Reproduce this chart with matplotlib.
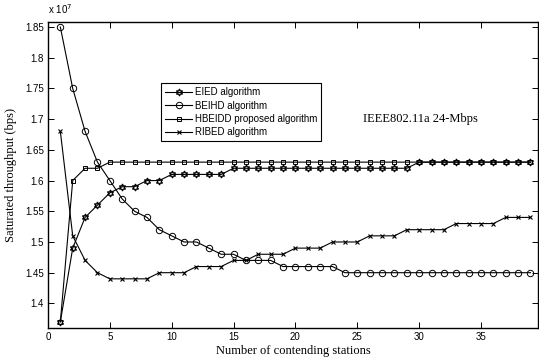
import matplotlib
matplotlib.use("Agg")
import matplotlib.pyplot as plt
from matplotlib.ticker import FuncFormatter

stations = list(range(1, 40))
eied = [1.37, 1.49, 1.54, 1.56, 1.58, 1.59, 1.59, 1.60, 1.60, 1.61,
        1.61, 1.61, 1.61, 1.61, 1.62, 1.62, 1.62, 1.62, 1.62, 1.62,
        1.62, 1.62, 1.62, 1.62, 1.62, 1.62, 1.62, 1.62, 1.62, 1.63,
        1.63, 1.63, 1.63, 1.63, 1.63, 1.63, 1.63, 1.63, 1.63]
beihd = [1.85, 1.75, 1.68, 1.63, 1.60, 1.57, 1.55, 1.54, 1.52, 1.51,
         1.50, 1.50, 1.49, 1.48, 1.48, 1.47, 1.47, 1.47, 1.46, 1.46,
         1.46, 1.46, 1.46, 1.45, 1.45, 1.45, 1.45, 1.45, 1.45, 1.45,
         1.45, 1.45, 1.45, 1.45, 1.45, 1.45, 1.45, 1.45, 1.45]
hbeidd = [1.37, 1.60, 1.62, 1.62] + [1.63] * 35
ribed = [1.68, 1.51, 1.47, 1.45, 1.44, 1.44, 1.44, 1.44, 1.45, 1.45,
         1.45, 1.46, 1.46, 1.46, 1.47, 1.47, 1.48, 1.48, 1.48, 1.49,
         1.49, 1.49, 1.50, 1.50, 1.50, 1.51, 1.51, 1.51, 1.52, 1.52,
         1.52, 1.52, 1.53, 1.53, 1.53, 1.53, 1.54, 1.54, 1.54]
scale = 1e7

fig = plt.figure(figsize=(5.39, 3.62), dpi=100)
ax = fig.add_axes([0.089, 0.094, 0.909, 0.845])

sans = "Liberation Sans"
serif = "Liberation Serif"

ax.plot(stations, [v * scale for v in eied], color="black", lw=0.8,
        marker=(6, 1, 0), ms=5, mfc="none", mec="black", mew=0.9, label="EIED algorithm")
ax.plot(stations, [v * scale for v in beihd], color="black", lw=0.8,
        marker="o", ms=4.6, mfc="none", mec="black", mew=0.7, label="BEIHD algorithm")
ax.plot(stations, [v * scale for v in hbeidd], color="black", lw=0.8,
        marker="s", ms=3.2, mfc="none", mec="black", mew=0.7, label="HBEIDD proposed algorithm")
ax.plot(stations, [v * scale for v in ribed], color="black", lw=0.8,
        marker="x", ms=3.2, mec="black", mew=0.8, label="RIBED algorithm")

ax.set_xlim(0, 39.6)
ax.set_ylim(1.36e7, 1.858e7)
ax.set_xticks([0, 5, 10, 15, 20, 25, 30, 35])
ax.set_yticks([v * scale for v in [1.4, 1.45, 1.5, 1.55, 1.6, 1.65, 1.7, 1.75, 1.8, 1.85]])
ax.yaxis.set_major_formatter(FuncFormatter(lambda v, p: f"{v / scale:g}"))
ax.tick_params(direction="in", top=True, right=True, length=4, width=0.7,
               labelsize=7, pad=3)
for lbl in ax.get_xticklabels() + ax.get_yticklabels():
    lbl.set_fontfamily(sans)
for s in ax.spines.values():
    s.set_linewidth(1.0)

fig.text(0.089, 0.955, r"x 10$^{7}$", fontsize=7, family=sans, ha="left", va="bottom")

ax.set_xlabel("Number of contending stations", fontsize=9, family=serif, labelpad=2)
ax.set_ylabel("Saturated throughput (bps)", fontsize=9, family=serif, labelpad=6)

ax.text(30.1, 1.70e7, "IEEE802.11a 24-Mbps", fontsize=9, family=serif,
        ha="center", va="center")

leg = ax.legend(loc="upper left", bbox_to_anchor=(0.231, 0.80), prop={"family": sans, "size": 7},
                frameon=True, fancybox=False, edgecolor="black", framealpha=1,
                handlelength=2.8, handletextpad=0.3, borderpad=0.4, labelspacing=0.35,
                borderaxespad=0)
leg.get_frame().set_linewidth(0.8)

fig.savefig("out.png", dpi=100)
